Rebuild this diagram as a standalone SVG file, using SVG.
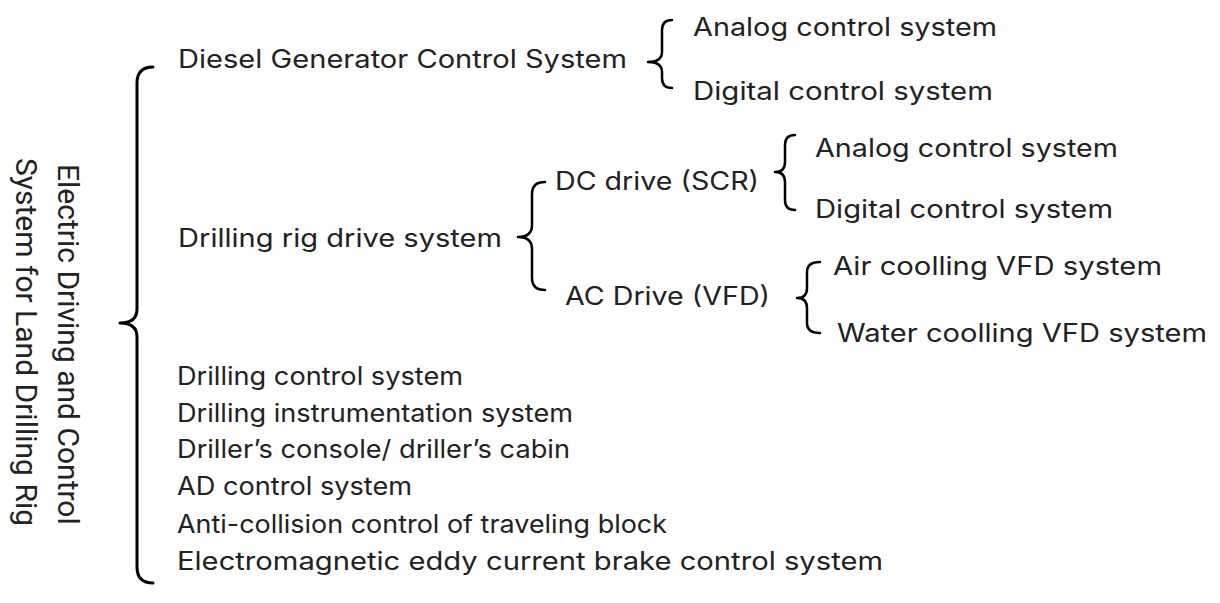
<svg xmlns="http://www.w3.org/2000/svg" width="1220" height="603" viewBox="0 0 1220 603">
<style>
.t{font-family:Inter,"Noto Sans","Liberation Sans",sans-serif;font-size:25px;fill:#222;}
.ttl{font-family:Roboto,"Liberation Sans",sans-serif;font-size:30px;fill:#222;}
.br{fill:none;stroke:#000;stroke-width:2.5;stroke-linecap:round;stroke-linejoin:round;}
.bb{fill:none;stroke:#000;stroke-width:3;stroke-linecap:round;stroke-linejoin:round;}
</style>
<rect width="1220" height="603" fill="#fff"/>
<g id="title">
<text class="ttl" transform="translate(58,164) rotate(90)">Electric Driving and Control</text>
<text class="ttl" transform="translate(16,158) rotate(90)">System for Land Drilling Rig</text>
</g>
<g id="connectors">
<path class="bb" d="M153,67 Q137,67 137,83 L137,309 Q137,323 120,323 Q137,323 137,337 L137,567 Q137,583 153,583"/>
<path class="br" d="M672,20 Q662,20 662,30 L662,52 Q662,62 648,62 Q662,62 662,72 L662,78 Q662,88 672,88"/>
<path class="br" d="M545,182 Q532,182 532,194 L532,225 Q532,237 518,237 Q532,237 532,249 L532,278 Q532,290 545,290"/>
<path class="br" d="M795,135 Q785,135 785,145 L785,162 Q785,172 775,172 Q785,172 785,182 L785,200 Q785,210 795,210"/>
<path class="br" d="M820,262 Q807,262 807,272 L807,288 Q807,298 797,298 Q807,298 807,308 L807,323 Q807,333 820,333"/>
</g>
<g id="n-diesel"><text class="t" x="178" y="68" textLength="449" lengthAdjust="spacingAndGlyphs">Diesel Generator Control System</text></g>
<g id="n-analog1"><text class="t" x="693" y="36" textLength="304" lengthAdjust="spacingAndGlyphs">Analog control system</text></g>
<g id="n-digital1"><text class="t" x="693" y="100" textLength="300" lengthAdjust="spacingAndGlyphs">Digital control system</text></g>
<g id="n-rigdrive"><text class="t" x="178" y="247" textLength="324" lengthAdjust="spacingAndGlyphs">Drilling rig drive system</text></g>
<g id="n-dc"><text class="t" x="555" y="190" textLength="204" lengthAdjust="spacingAndGlyphs">DC drive (SCR)</text></g>
<g id="n-ac"><text class="t" x="565" y="305" textLength="205" lengthAdjust="spacingAndGlyphs">AC Drive (VFD)</text></g>
<g id="n-analog2"><text class="t" x="815" y="157" textLength="303" lengthAdjust="spacingAndGlyphs">Analog control system</text></g>
<g id="n-digital2"><text class="t" x="815" y="218" textLength="298" lengthAdjust="spacingAndGlyphs">Digital control system</text></g>
<g id="n-air"><text class="t" x="833" y="275" textLength="329" lengthAdjust="spacingAndGlyphs">Air coolling VFD system</text></g>
<g id="n-water"><text class="t" x="837" y="342" textLength="370" lengthAdjust="spacingAndGlyphs">Water coolling VFD system</text></g>
<g id="n-list">
<text class="t" x="177" y="385" textLength="286" lengthAdjust="spacingAndGlyphs">Drilling control system</text>
<text class="t" x="177" y="422" textLength="396" lengthAdjust="spacingAndGlyphs">Drilling instrumentation system</text>
<text class="t" x="177" y="458" textLength="393" lengthAdjust="spacingAndGlyphs">Driller’s console/ driller’s cabin</text>
<text class="t" x="177" y="495" textLength="235" lengthAdjust="spacingAndGlyphs">AD control system</text>
<text class="t" x="177" y="533" textLength="490" lengthAdjust="spacingAndGlyphs">Anti-collision control of traveling block</text>
<text class="t" x="177" y="570" textLength="706" lengthAdjust="spacingAndGlyphs">Electromagnetic eddy current brake control system</text>
</g>
</svg>
